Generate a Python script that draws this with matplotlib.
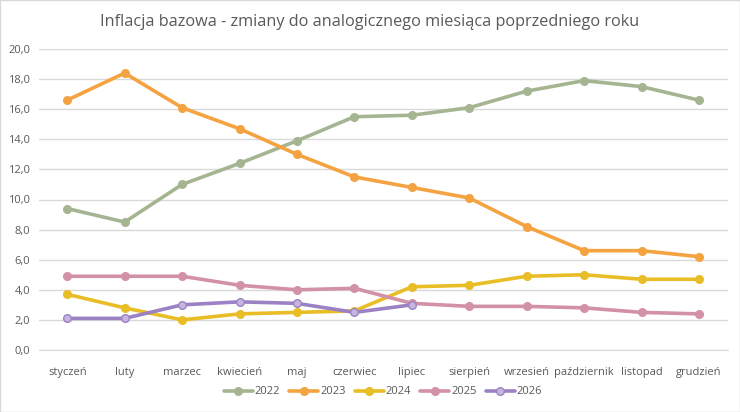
import matplotlib.pyplot as plt
import matplotlib.patches as patches

months = ['styczeń', 'luty', 'marzec', 'kwiecień', 'maj', 'czerwiec',
          'lipiec', 'sierpień', 'wrzesień', 'październik', 'listopad', 'grudzień']

y2022 = [9.4, 8.5, 11.0, 12.4, 13.9, 15.5, 15.6, 16.1, 17.2, 17.9, 17.5, 16.6]
y2023 = [16.6, 18.4, 16.1, 14.7, 13.0, 11.5, 10.8, 10.1, 8.2, 6.6, 6.6, 6.2]
y2024 = [3.7, 2.8, 2.0, 2.4, 2.5, 2.6, 4.2, 4.3, 4.9, 5.0, 4.7, 4.7]
y2025 = [4.9, 4.9, 4.9, 4.3, 4.0, 4.1, 3.1, 2.9, 2.9, 2.8, 2.5, 2.4]
y2026 = [2.1, 2.1, 3.0, 3.2, 3.1, 2.5, 3.0]

series = [
    ('2022', y2022, '#A5B592', '#A5B592'),
    ('2023', y2023, '#F4A340', '#F4A340'),
    ('2024', y2024, '#E9BD25', '#E9BD25'),
    ('2025', y2025, '#D291A6', '#D291A6'),
    ('2026', y2026, '#9C82C4', '#C5B5DF'),
]

fig = plt.figure(figsize=(7.40, 4.12), dpi=100)
plt.rcParams['font.family'] = ['Open Sans', 'DejaVu Sans']
ax = fig.add_axes([38.5 / 740, 1 - 350 / 412, (727.75 - 38.5) / 740, (350 - 49) / 412])

x = list(range(len(months)))
for name, vals, col, face in series:
    ax.plot(x[:len(vals)], vals, color=col, lw=2.6, marker='o', ms=5.5,
            markerfacecolor=face, markeredgecolor=col, markeredgewidth=1,
            label=name, solid_capstyle='round')

ax.set_xlim(-0.5, 11.5)
ax.set_ylim(0, 20)
ax.set_yticks(range(0, 21, 2))
ax.set_yticklabels([f'{v:.1f}'.replace('.', ',') for v in range(0, 21, 2)])
ax.set_xticks(x)
ax.set_xticklabels(months)
ax.tick_params(axis='both', length=0, labelsize=8, colors='#595959')
ax.tick_params(axis='x', pad=12)
ax.tick_params(axis='y', pad=6)
ax.grid(axis='y', color='#D9D9D9', lw=1)
ax.set_axisbelow(True)
for s in ['top', 'right', 'left']:
    ax.spines[s].set_visible(False)
ax.spines['bottom'].set_color('#D9D9D9')

fig.text(0.5, 1 - 22 / 412, 'Inflacja bazowa - zmiany do analogicznego miesiąca poprzedniego roku',
         ha='center', va='center', fontsize=11.7, color='#595959')

ax.legend(loc='center', bbox_to_anchor=(0.5, (350 - 392) / 301),
          ncol=5, frameon=False, fontsize=8, labelcolor='#595959',
          handlelength=2.6, handletextpad=0.2, columnspacing=0.8)

fig.patches.append(patches.Rectangle((0, 0), 1, 1, transform=fig.transFigure,
                                     fill=False, edgecolor='#D9D9D9', lw=1))

fig.savefig('out.png', dpi=100)
